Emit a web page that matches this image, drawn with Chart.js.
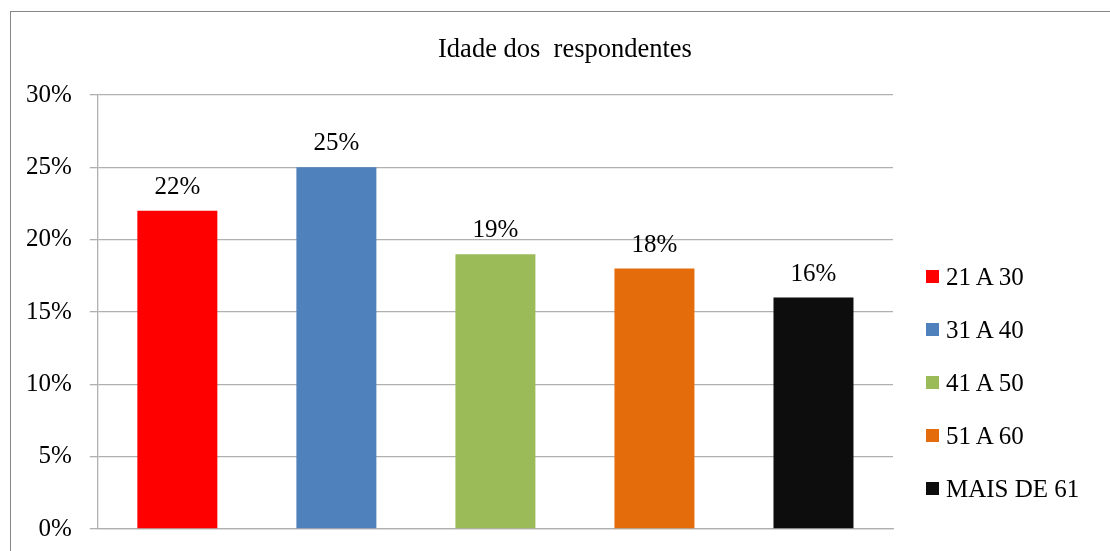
<!DOCTYPE html>
<html>
<head>
<meta charset="utf-8">
<script src="https://cdn.jsdelivr.net/npm/chart.js@4.4.1/dist/chart.umd.min.js"></script>
<style>
  html, body { margin: 0; padding: 0; background: #ffffff; }
  #wrap { position: relative; width: 1110px; height: 551px; overflow: hidden; }
  #frame { position: absolute; left: 10px; top: 11px; width: 1200px; height: 600px;
           border-left: 1px solid #878787; border-top: 1px solid #878787; box-sizing: border-box; }
  #chart { position: absolute; left: 0; top: 0; }
  #title { position: absolute; left: 0; width: 1130px; top: 33px; text-align: center;
           font-family: "Times New Roman", "Liberation Serif", serif; font-size: 26.5px;
           color: #000; white-space: pre; line-height: 30px; }
  #legend { position: absolute; left: 926px; top: 250px; margin: 0; padding: 0; list-style: none;
            font-family: "Times New Roman", "Liberation Serif", serif; font-size: 25px; color: #000; }
  #legend li { display: flex; align-items: center; height: 53px; white-space: nowrap; }
  #legend .sw { width: 13px; height: 13px; margin-right: 7px; flex: none; }
</style>
</head>
<body>
<div id="wrap">
  <div id="frame"></div>
  <canvas id="chart" width="1110" height="551"></canvas>
  <div id="title"></div>
  <ul id="legend"></ul>
</div>
<script>
const chartTitle = 'Idade dos  respondentes';
const ageGroups = ['21 A 30', '31 A 40', '41 A 50', '51 A 60', 'MAIS DE 61'];
const shares = [22, 25, 19, 18, 16];
const groupColors = ['#FF0000', '#4F81BD', '#9BBB59', '#E46C0A', '#0D0D0D'];
const yTicks = [0, 5, 10, 15, 20, 25, 30];

const serif = '"Times New Roman", "Liberation Serif", serif';

// one dataset per age group so each gets its own legend entry and colour
const datasets = ageGroups.map((name, i) => ({
  label: name,
  data: ageGroups.map((_, j) => (j === i ? shares[i] : null)),
  backgroundColor: groupColors[i],
  borderWidth: 0,
  grouped: false,
  categoryPercentage: 1,
  barPercentage: 0.503
}));

// percentage text above each bar
const valueLabels = {
  id: 'valueLabels',
  afterDatasetsDraw(chart) {
    const ctx = chart.ctx;
    ctx.save();
    ctx.font = '25px ' + serif;
    ctx.fillStyle = '#000';
    ctx.textAlign = 'center';
    ctx.textBaseline = 'alphabetic';
    chart.data.datasets.forEach((ds, di) => {
      chart.getDatasetMeta(di).data.forEach((bar, idx) => {
        const v = ds.data[idx];
        if (v === null || v === undefined) return;
        ctx.fillText(v + '%', bar.x, bar.y - 17);
      });
    });
    ctx.restore();
  }
};

const chart = new Chart(document.getElementById('chart'), {
  type: 'bar',
  data: { labels: ageGroups, datasets },
  options: {
    responsive: false,
    animation: false,
    events: [],
    layout: { padding: { top: 95, right: 217, bottom: 22, left: 8 } },
    plugins: {
      legend: { display: false },
      title: { display: false },
      tooltip: { enabled: false }
    },
    scales: {
      x: {
        ticks: { display: false },
        grid: { display: false, drawTicks: false },
        border: { display: true, color: '#b0b0b0', width: 1.3 },
        afterFit(scale) { scale.height = 0; }
      },
      y: {
        min: yTicks[0],
        max: yTicks[yTicks.length - 1],
        afterBuildTicks(scale) { scale.ticks = yTicks.map(v => ({ value: v })); },
        // the layout padding already leaves room for the end labels
        afterFit(scale) { scale.paddingTop = 0; scale.paddingBottom = 0; },
        ticks: {
          padding: 18,
          color: '#000',
          font: { family: serif, size: 25 },
          callback: v => v + '%'
        },
        grid: { color: '#b0b0b0', lineWidth: 1.3, tickLength: 8, drawTicks: true },
        border: { display: true, color: '#b0b0b0', width: 1.3 }
      }
    }
  },
  plugins: [valueLabels]
});

document.getElementById('title').textContent = chartTitle;
const legend = document.getElementById('legend');
chart.data.datasets.forEach(ds => {
  const li = document.createElement('li');
  const sw = document.createElement('span');
  sw.className = 'sw';
  sw.style.background = ds.backgroundColor;
  li.appendChild(sw);
  li.appendChild(document.createTextNode(ds.label));
  legend.appendChild(li);
});
</script>
</body>
</html>
